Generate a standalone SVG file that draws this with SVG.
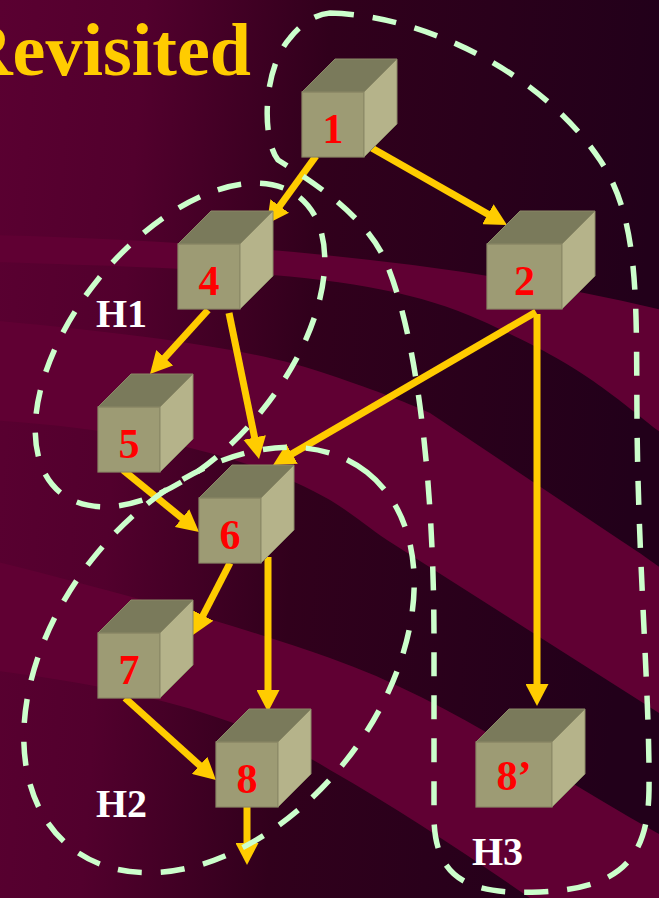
<svg xmlns="http://www.w3.org/2000/svg" width="659" height="898" viewBox="0 0 659 898">
  <defs>
    <linearGradient id="bg" x1="0" y1="0" x2="1" y2="0.1">
      <stop offset="0" stop-color="#5a0031"/>
      <stop offset="0.22" stop-color="#52002d"/>
      <stop offset="0.5" stop-color="#31001c"/>
      <stop offset="1" stop-color="#22001a"/>
    </linearGradient>
    <marker id="ah" markerUnits="userSpaceOnUse" markerWidth="22" markerHeight="23" viewBox="0 0 22 23" refX="4" refY="11.5" orient="auto">
      <path d="M0,0 L22,11.5 L0,23 Z" fill="#ffcc00"/>
    </marker>
    <style>
      .band { fill: #600033; }
      .edge { stroke: #ffcc00; stroke-width: 7; fill: none; marker-end: url(#ah); }
      .front { fill: #9d9b74; stroke: #8a8866; stroke-width: 1.2; }
      .top { fill: #7a7a5b; stroke: #8a8866; stroke-width: 1; }
      .right { fill: #b5b38a; stroke: #8a8866; stroke-width: 1; }
      .num { font-family: "Liberation Serif", "Times New Roman", serif; font-weight: bold; font-size: 42px; fill: #ff0000; text-anchor: middle; }
      .hull { fill: none; stroke: #ccffcc; stroke-width: 5.5; stroke-dasharray: 24 19; }
      .hl { font-family: "Liberation Serif", "Times New Roman", serif; font-weight: bold; font-size: 40px; fill: #ffffff; }
      .title { font-family: "Liberation Serif", "Times New Roman", serif; font-weight: bold; font-size: 74px; fill: #ffcc00; text-anchor: end; }
    </style>
  </defs>

  <g id="background">
    <rect x="0" y="0" width="659" height="898" fill="url(#bg)"/>
    <path class="band" d="M-10,235 C200,240 450,258 670,312 L670,440 C600,385 580,365 480,320 C380,275 250,270 -10,262 Z"/>
    <path class="band" d="M-10,320 C150,335 260,350 330,375 C380,392 400,400 430,413 L620,540 C640,553 650,560 670,575 L670,720 L387,540 C365,525 350,512 330,500 C260,460 150,430 -10,420 Z"/>
    <path class="band" d="M-10,560 C150,600 250,630 330,658 C450,700 560,780 670,840 L670,990 L530,898 C460,850 400,810 330,770 C250,720 150,690 -10,670 Z"/>
  </g>

  <text class="title" x="251" y="75">Revisited</text>

  <g id="connectors">
    <line class="edge" x1="316" y1="156" x2="277.4" y2="209.3"/>
    <line class="edge" x1="370" y1="147" x2="491.4" y2="216.1"/>
    <line class="edge" x1="208" y1="310" x2="162.1" y2="360.7"/>
    <line class="edge" x1="229" y1="313" x2="255.4" y2="441.4"/>
    <line class="edge" x1="123" y1="470" x2="185.1" y2="520.6"/>
    <line class="edge" x1="536" y1="312" x2="288.6" y2="455.9"/>
    <line class="edge" x1="537" y1="314" x2="537" y2="688"/>
    <line class="edge" x1="230" y1="563" x2="201.2" y2="619"/>
    <line class="edge" x1="268" y1="557" x2="268" y2="694"/>
    <line class="edge" x1="125" y1="698" x2="202.6" y2="768"/>
    <line class="edge" x1="247" y1="807" x2="247" y2="847"/>
  </g>

  <g id="node1">
    <rect class="front" x="302" y="92" width="62" height="65"/>
    <polygon class="top" points="302,92 335,59 397,59 364,92"/>
    <polygon class="right" points="364,92 397,59 397,124 364,157"/>
    <text class="num" x="333" y="143">1</text>
  </g>
  <g id="node2">
    <rect class="front" x="487" y="244" width="75" height="65"/>
    <polygon class="top" points="487,244 520,211 595,211 562,244"/>
    <polygon class="right" points="562,244 595,211 595,276 562,309"/>
    <text class="num" x="524.5" y="295">2</text>
  </g>
  <g id="node4">
    <rect class="front" x="178" y="244" width="62" height="65"/>
    <polygon class="top" points="178,244 211,211 273,211 240,244"/>
    <polygon class="right" points="240,244 273,211 273,276 240,309"/>
    <text class="num" x="209" y="295">4</text>
  </g>
  <g id="node5">
    <rect class="front" x="98" y="407" width="62" height="65"/>
    <polygon class="top" points="98,407 131,374 193,374 160,407"/>
    <polygon class="right" points="160,407 193,374 193,439 160,472"/>
    <text class="num" x="129" y="458">5</text>
  </g>
  <g id="node6">
    <rect class="front" x="199" y="498" width="62" height="65"/>
    <polygon class="top" points="199,498 232,465 294,465 261,498"/>
    <polygon class="right" points="261,498 294,465 294,530 261,563"/>
    <text class="num" x="230" y="549">6</text>
  </g>
  <g id="node7">
    <rect class="front" x="98" y="633" width="62" height="65"/>
    <polygon class="top" points="98,633 131,600 193,600 160,633"/>
    <polygon class="right" points="160,633 193,600 193,665 160,698"/>
    <text class="num" x="129" y="684">7</text>
  </g>
  <g id="node8">
    <rect class="front" x="216" y="742" width="62" height="65"/>
    <polygon class="top" points="216,742 249,709 311,709 278,742"/>
    <polygon class="right" points="278,742 311,709 311,774 278,807"/>
    <text class="num" x="247" y="793">8</text>
  </g>
  <g id="node8p">
    <rect class="front" x="476" y="742" width="76" height="65"/>
    <polygon class="top" points="476,742 509,709 585,709 552,742"/>
    <polygon class="right" points="552,742 585,709 585,774 552,807"/>
    <text class="num" x="514" y="790">8’</text>
  </g>

  <g id="H1">
    <ellipse class="hull" cx="180" cy="345" rx="190" ry="105" transform="rotate(-51 180 345)"/>
    <text class="hl" x="96" y="327">H1</text>
  </g>
  <g id="H2">
    <ellipse class="hull" cx="219" cy="660" rx="239" ry="162" transform="rotate(-51.7 219 660)"/>
    <text class="hl" x="96" y="817">H2</text>
  </g>
  <g id="H3">
    <path class="hull" d="M330,13 C420,15 540,70 600,160 C640,220 636,300 637,420 C638,560 650,700 649,790 C648,860 620,888 540,892 C470,895 436,880 434,820 L434,640 C434,500 420,340 385,260 C365,215 310,180 278,160 C262,140 262,70 290,38 C300,25 315,14 330,13 Z"/>
    <text class="hl" x="472" y="865">H3</text>
  </g>
</svg>
